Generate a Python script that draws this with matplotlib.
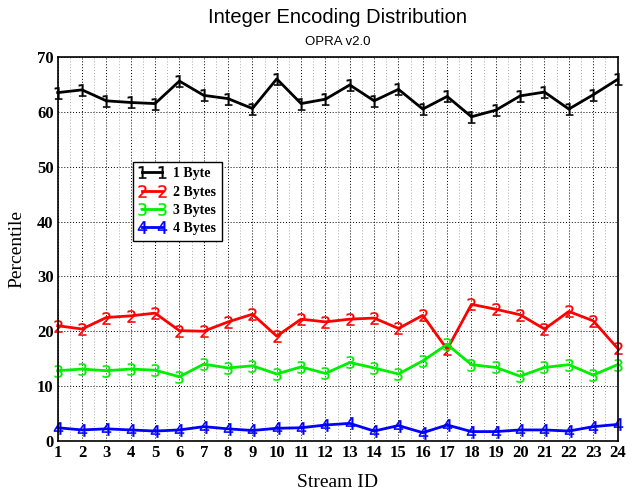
import matplotlib
matplotlib.use("Agg")
import matplotlib.pyplot as plt
import numpy as np
from matplotlib.ticker import MultipleLocator

stream_ids = list(range(1, 25))
one_byte = [63.5, 64.0, 62.0, 61.7, 61.5, 65.6, 63.0, 62.4, 60.6, 66.0, 61.5, 62.3,
            64.9, 62.0, 64.1, 60.5, 62.8, 59.1, 60.3, 62.9, 63.6, 60.5, 63.1, 65.9]
two_bytes = [21.0, 20.4, 22.5, 22.8, 23.3, 20.1, 20.0, 21.7, 23.1, 19.1, 22.2, 21.7,
             22.2, 22.4, 20.5, 22.9, 16.7, 24.9, 24.0, 23.0, 20.4, 23.6, 21.9, 16.9]
three_bytes = [12.8, 13.1, 12.8, 13.1, 12.9, 11.7, 14.0, 13.3, 13.7, 12.2, 13.5, 12.3,
               14.3, 13.3, 12.2, 14.6, 17.6, 13.9, 13.4, 11.8, 13.4, 13.9, 12.0, 13.9]
four_bytes = [2.4, 2.0, 2.2, 2.0, 1.8, 2.0, 2.6, 2.2, 1.9, 2.3, 2.4, 2.9,
              3.2, 1.8, 2.8, 1.5, 2.9, 1.7, 1.7, 2.0, 2.0, 1.8, 2.6, 3.0]

series = [
    ("1 Byte", one_byte, "black", "$1$"),
    ("2 Bytes", two_bytes, "red", "$2$"),
    ("3 Bytes", three_bytes, "#00ee00", "$3$"),
    ("4 Bytes", four_bytes, "blue", "$4$"),
]

fig = plt.figure(figsize=(6.34, 4.91), dpi=100)
ax = fig.add_axes([0.091, 0.102, 0.883, 0.782])

for label, values, color, marker in series:
    ax.plot(stream_ids, values, color=color, lw=2, marker=marker, ms=9,
            markeredgewidth=0.2, label=label, clip_on=False)

ax.set_xlim(1, 24)
ax.set_ylim(0, 70)
ax.xaxis.set_major_locator(MultipleLocator(1))
ax.xaxis.set_minor_locator(MultipleLocator(0.5))
ax.yaxis.set_major_locator(MultipleLocator(10))
ax.grid(True, which="major", color="black", ls=(0, (1, 2)), lw=0.7)
ax.grid(True, which="minor", axis="x", color="#aaaaaa", ls=(0, (1, 2)), lw=0.7)
ax.tick_params(which="both", direction="in", length=0)

tick_font = {"family": "Liberation Serif", "weight": "bold", "size": 12}
ax.set_xticks(stream_ids)
ax.set_xticklabels([str(s) for s in stream_ids], fontdict=tick_font)
ax.set_yticks(range(0, 71, 10))
ax.set_yticklabels([str(v) for v in range(0, 71, 10)], fontdict=tick_font)
ax.tick_params(axis="x", pad=3)
ax.tick_params(axis="y", pad=3)

for spine in ax.spines.values():
    spine.set_linewidth(1.2)

ax.set_xlabel("Stream ID", family="Liberation Serif", fontsize=14, labelpad=9)
ax.set_ylabel("Percentile", family="Liberation Serif", fontsize=14, labelpad=8)

# titles are centred over the plot area, not the figure
ax.text(0.5, 1.104, "Integer Encoding Distribution", transform=ax.transAxes,
        ha="center", va="center", family="Liberation Sans", fontsize=14.5)
ax.text(0.5, 1.039, "OPRA v2.0", transform=ax.transAxes,
        ha="center", va="center", family="Liberation Sans", fontsize=9.5)

leg = ax.legend(loc="upper left", bbox_to_anchor=(0.134, 0.727), numpoints=2,
                handlelength=2.0, handletextpad=0.5, borderpad=0.4, labelspacing=0.38,
                borderaxespad=0, fancybox=False, framealpha=1, edgecolor="black",
                prop={"family": "Liberation Serif", "weight": "bold", "size": 10})
leg.get_frame().set_linewidth(1.0)

fig.savefig("out.png", dpi=100)
